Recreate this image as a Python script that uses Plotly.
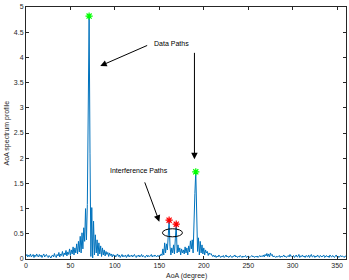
import plotly.graph_objects as go

# AoA spectrum values, 1-degree steps from 0 to 360
v000 = [0.06, 0.09, 0.04, 0.08, 0.05, 0.10, 0.04, 0.07, 0.09, 0.03]
v010 = [0.08, 0.05, 0.10, 0.06, 0.04, 0.09, 0.05, 0.08, 0.03, 0.07]
v020 = [0.10, 0.04, 0.06, 0.09, 0.05, 0.03, 0.07, 0.04, 0.02, 0.06]
v030 = [0.08, 0.04, 0.11, 0.05, 0.03, 0.09, 0.06, 0.13, 0.04, 0.10]
v040 = [0.07, 0.15, 0.05, 0.12, 0.08, 0.17, 0.06, 0.14, 0.09, 0.20]
v050 = [0.07, 0.18, 0.10, 0.24, 0.08, 0.22, 0.12, 0.30, 0.10, 0.35]
v060 = [0.14, 0.45, 0.12, 0.52, 0.20, 0.62, 0.35, 1.00, 0.38, 1.08]
v070 = [2.40, 4.82, 2.10, 0.05, 1.02, 0.02, 0.75, 0.08, 0.48, 0.12]
v080 = [0.38, 0.06, 0.32, 0.10, 0.26, 0.05, 0.22, 0.08, 0.18, 0.06]
v090 = [0.15, 0.09, 0.13, 0.05, 0.12, 0.07, 0.10, 0.04, 0.09, 0.06]
v100 = [0.08, 0.04, 0.07, 0.10, 0.05, 0.08, 0.03, 0.06, 0.09, 0.04]
v110 = [0.07, 0.05, 0.08, 0.03, 0.06, 0.09, 0.04, 0.07, 0.05, 0.08]
v120 = [0.04, 0.06, 0.09, 0.05, 0.03, 0.07, 0.05, 0.08, 0.04, 0.06]
v130 = [0.09, 0.04, 0.07, 0.05, 0.03, 0.06, 0.08, 0.04, 0.07, 0.05]
v140 = [0.06, 0.09, 0.04, 0.07, 0.05, 0.08, 0.06, 0.04, 0.07, 0.05]
v150 = [0.08, 0.06, 0.10, 0.07, 0.20, 0.08, 0.32, 0.12, 0.30, 0.18]
v160 = [0.45, 0.77, 0.25, 0.08, 0.22, 0.12, 0.28, 0.10, 0.40, 0.69]
v170 = [0.12, 0.28, 0.14, 0.22, 0.08, 0.20, 0.12, 0.18, 0.10, 0.24]
v180 = [0.12, 0.22, 0.08, 0.26, 0.14, 0.36, 0.20, 0.38, 0.12, 0.90]
v190 = [1.30, 1.73, 0.90, 0.15, 0.42, 0.08, 0.35, 0.12, 0.28, 0.10]
v200 = [0.22, 0.08, 0.18, 0.12, 0.15, 0.07, 0.12, 0.09, 0.11, 0.06]
v210 = [0.05, 0.08, 0.04, 0.07, 0.03, 0.06, 0.04, 0.08, 0.05, 0.03]
v220 = [0.06, 0.04, 0.07, 0.03, 0.05, 0.08, 0.04, 0.06, 0.03, 0.05]
v230 = [0.07, 0.04, 0.03, 0.06, 0.05, 0.08, 0.04, 0.06, 0.03, 0.05]
v240 = [0.04, 0.07, 0.05, 0.03, 0.06, 0.04, 0.05, 0.07, 0.03, 0.05]
v250 = [0.06, 0.04, 0.03, 0.05, 0.07, 0.04, 0.06, 0.03, 0.05, 0.04]
v260 = [0.06, 0.03, 0.05, 0.07, 0.04, 0.06, 0.05, 0.08, 0.04, 0.09]
v270 = [0.06, 0.11, 0.05, 0.10, 0.04, 0.12, 0.07, 0.09, 0.04, 0.06]
v280 = [0.05, 0.03, 0.06, 0.04, 0.05, 0.07, 0.03, 0.06, 0.04, 0.05]
v290 = [0.08, 0.04, 0.06, 0.03, 0.05, 0.07, 0.04, 0.09, 0.05, 0.06]
v300 = [0.04, 0.07, 0.03, 0.06, 0.08, 0.04, 0.05, 0.09, 0.03, 0.06]
v310 = [0.05, 0.08, 0.04, 0.06, 0.03, 0.07, 0.05, 0.04, 0.08, 0.03]
v320 = [0.06, 0.09, 0.04, 0.05, 0.07, 0.03, 0.06, 0.04, 0.08, 0.05]
v330 = [0.03, 0.07, 0.05, 0.04, 0.06, 0.08, 0.03, 0.05, 0.07, 0.04]
v340 = [0.06, 0.03, 0.08, 0.05, 0.04, 0.07, 0.05, 0.03, 0.06, 0.08]
v350 = [0.04, 0.06, 0.03, 0.05, 0.07, 0.04, 0.06, 0.05, 0.03, 0.06, 0.05]

spectrum = (v000 + v010 + v020 + v030 + v040 + v050 + v060 + v070 + v080 + v090
            + v100 + v110 + v120 + v130 + v140 + v150 + v160 + v170 + v180 + v190
            + v200 + v210 + v220 + v230 + v240 + v250 + v260 + v270 + v280 + v290
            + v300 + v310 + v320 + v330 + v340 + v350)
aoa = list(range(len(spectrum)))

data_peaks_x = [71, 191]
data_peaks_y = [4.82, 1.73]
interf_peaks_x = [161, 169]
interf_peaks_y = [0.77, 0.69]

x_ticks = [0, 50, 100, 150, 200, 250, 300, 350]
y_ticks = [0, 0.5, 1, 1.5, 2, 2.5, 3, 3.5, 4, 4.5, 5]

FONT = "Liberation Sans, Arial, sans-serif"
AX = "#262626"

fig = go.Figure()
fig.add_trace(go.Scatter(x=aoa, y=spectrum, mode="lines",
                         line=dict(color="#0072BD", width=1), showlegend=False))
fig.add_trace(go.Scatter(x=data_peaks_x, y=data_peaks_y, mode="markers",
                         marker=dict(symbol="asterisk-open", size=6, color="#00FF00",
                                     line=dict(color="#00FF00", width=1.2)),
                         showlegend=False))
fig.add_trace(go.Scatter(x=interf_peaks_x, y=interf_peaks_y, mode="markers",
                         marker=dict(symbol="asterisk-open", size=6, color="#FF0000",
                                     line=dict(color="#FF0000", width=1.2)),
                         showlegend=False))

fig.add_shape(type="circle", xref="x", yref="y", x0=153.5, x1=176, y0=0.44, y1=0.60,
              line=dict(color="black", width=1))

axis_common = dict(showline=True, mirror="ticks", linecolor=AX, linewidth=1,
                   ticks="inside", ticklen=3, tickcolor=AX, showgrid=False,
                   zeroline=False, automargin=False,
                   tickfont=dict(family=FONT, size=7, color=AX))

fig.update_xaxes(range=[0, 360], tickvals=x_ticks, **axis_common)
fig.update_yaxes(range=[0, 5], tickvals=y_ticks,
                 ticktext=[str(t) for t in y_ticks], **axis_common)

ann = [
    dict(x=83.5, y=3.83, ax=138, ay=4.25, xref="x", yref="y", axref="x", ayref="y",
         text="", showarrow=True, arrowhead=2, arrowsize=1.3, arrowwidth=1, arrowcolor="black"),
    dict(x=189.5, y=1.98, ax=189.5, ay=4.12, xref="x", yref="y", axref="x", ayref="y",
         text="", showarrow=True, arrowhead=2, arrowsize=1.3, arrowwidth=1, arrowcolor="black"),
    dict(x=150, y=0.74, ax=133, ay=1.55, xref="x", yref="y", axref="x", ayref="y",
         text="", showarrow=True, arrowhead=2, arrowsize=1.3, arrowwidth=1, arrowcolor="black"),
    dict(x=164, y=4.27, xref="x", yref="y", text="Data Paths", showarrow=False,
         font=dict(family=FONT, size=7, color="black")),
    dict(x=127, y=1.75, xref="x", yref="y", text="Interference Paths", showarrow=False,
         font=dict(family=FONT, size=7, color="black")),
    dict(x=0.5, y=-0.045, xref="paper", yref="paper", text="AoA (degree)", showarrow=False,
         yanchor="top", font=dict(family=FONT, size=7, color=AX)),
    dict(x=-0.058, y=0.5, xref="paper", yref="paper", text="AoA spectrum profile",
         showarrow=False, textangle=-90, xanchor="center", yanchor="middle",
         font=dict(family=FONT, size=7, color=AX)),
]

fig.update_layout(width=349, height=280, margin=dict(l=26, r=3, t=7, b=21),
                  paper_bgcolor="white", plot_bgcolor="white", annotations=ann)

fig.write_html("out.html", config={"displayModeBar": False},
               post_script="document.body.style.margin='0px';")
